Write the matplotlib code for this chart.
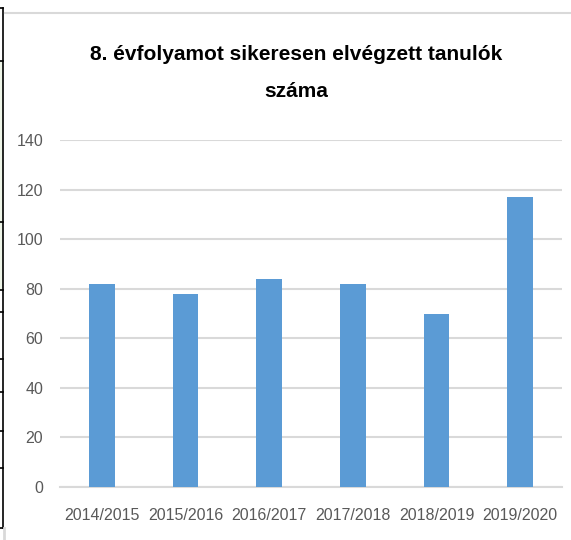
# 8. évfolyam - bar chart
import matplotlib.pyplot as plt
from matplotlib.lines import Line2D
from matplotlib.patches import Rectangle

years = ['2014/2015', '2015/2016', '2016/2017', '2017/2018', '2018/2019', '2019/2020']
students = [82, 78, 84, 82, 70, 117]
yticks = [0, 20, 40, 60, 80, 100, 120, 140]

plt.rcParams['font.family'] = ['Liberation Sans', 'DejaVu Sans']

fig = plt.figure(figsize=(5.71, 5.40), dpi=100)
W, H = 571, 540

def fx(px):
    return px / W

def fy(py):
    return 1 - py / H

# table cell border remains on the left
fig.patches.append(Rectangle((0, fy(290)), fx(3), fy(61) - fy(290), transform=fig.transFigure,
                             facecolor='#eef5e8', edgecolor='none'))
fig.lines.append(Line2D([fx(3), fx(3)], [fy(8), fy(528)], transform=fig.transFigure, color='black', lw=1.2))
for yy in [8, 61, 222, 290, 312, 359, 392, 431, 468, 528]:
    fig.lines.append(Line2D([0, fx(3)], [fy(yy), fy(yy)], transform=fig.transFigure, color='black', lw=1.2))

# chart border
fig.lines.append(Line2D([fx(5), fx(570)], [fy(13), fy(13)], transform=fig.transFigure, color='#d9d9d9', lw=1.5))
fig.lines.append(Line2D([fx(4), fx(4)], [fy(528), 0], transform=fig.transFigure, color='#d9d9d9', lw=2))

ax = fig.add_axes([fx(60), fy(487), fx(562) - fx(60), fy(140) - fy(487)])
ax.bar(range(len(years)), students, width=0.31, color='#5b9bd5', zorder=3)

ax.set_xlim(-0.5, len(years) - 0.5)
ax.set_ylim(0, 140)
ax.set_yticks(yticks)
ax.set_xticks(range(len(years)))
ax.set_xticklabels(years)
ax.grid(axis='y', color='#d9d9d9', lw=1.5, zorder=0)
for s in ['top', 'right', 'left']:
    ax.spines[s].set_visible(False)
ax.spines['bottom'].set_color('#d9d9d9')
ax.spines['bottom'].set_linewidth(1.5)
ax.tick_params(length=0, colors='#595959', labelsize=11.5)
ax.tick_params(axis='y', pad=12)
ax.tick_params(axis='x', pad=15)

fig.text(fx(296), fy(73), '8. évfolyamot sikeresen elvégzett tanulók\nszáma',
         ha='center', va='center', fontsize=15, fontweight='bold', color='black', linespacing=2.25)

fig.savefig('out.png', dpi=100)
